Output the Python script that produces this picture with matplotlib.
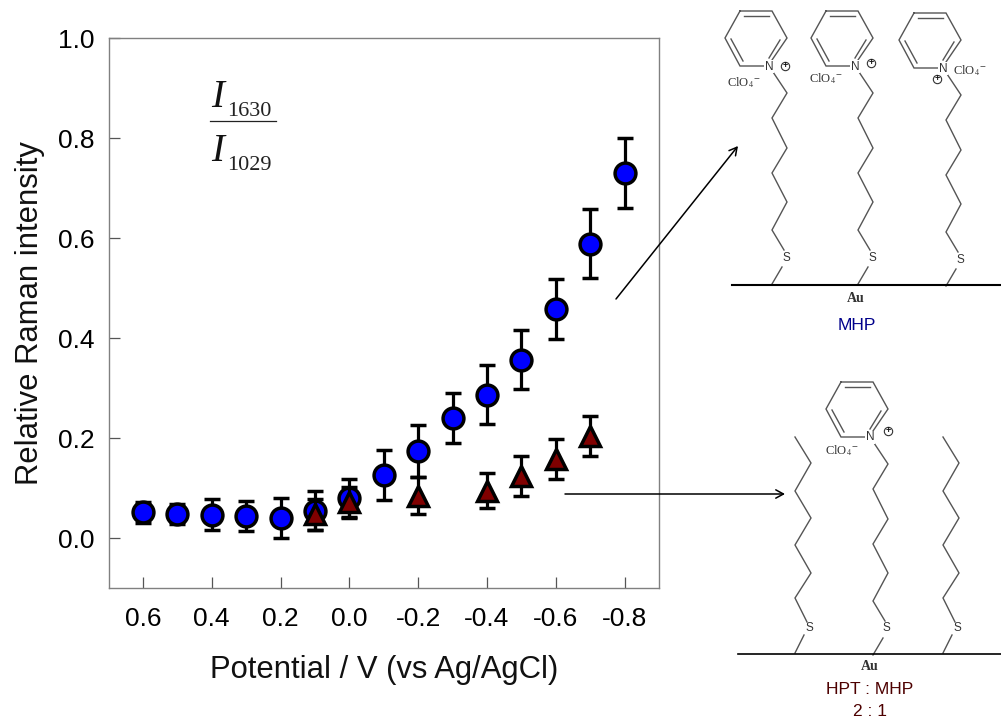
import numpy as np
import matplotlib
matplotlib.use('Agg')
import matplotlib.pyplot as plt

plt.rcParams['font.family'] = ['Liberation Sans', 'DejaVu Sans']
plt.rcParams['mathtext.fontset'] = 'stix'

# MHP series
mhp_x = [0.6, 0.5, 0.4, 0.3, 0.2, 0.1, 0.0, -0.1, -0.2, -0.3, -0.4, -0.5, -0.6, -0.7, -0.8]
mhp_y = [0.052, 0.048, 0.047, 0.044, 0.041, 0.055, 0.080, 0.126, 0.174, 0.240, 0.287, 0.357, 0.458, 0.589, 0.731]
mhp_err = [0.021, 0.020, 0.031, 0.030, 0.040, 0.039, 0.038, 0.050, 0.052, 0.050, 0.059, 0.059, 0.060, 0.069, 0.070]

# HPT : MHP series
mix_x = [0.1, 0.0, -0.2, -0.4, -0.5, -0.6, -0.7]
mix_y = [0.048, 0.072, 0.085, 0.095, 0.124, 0.158, 0.204]
mix_err = [0.031, 0.031, 0.037, 0.035, 0.040, 0.040, 0.040]

x_ticks = [0.6, 0.4, 0.2, 0.0, -0.2, -0.4, -0.6, -0.8]
y_ticks = [0.0, 0.2, 0.4, 0.6, 0.8, 1.0]

# sketch outlines in image pixels, relative to each nitrogen or chain top
ring = [(-29, -55), (3, -55), (18, -28), (3, -6), (0, 0), (-29, 0), (-44, -28), (-29, -55)]
ring_inner = [[(-25, -50), (0, -50)], [(11, -26), (0, -8)], [(-26, -5), (-38, -27)]]
chain = [(4, 6), (18, 27), (3, 52), (18, 82), (3, 107), (18, 136), (3, 164), (15, 184)]
tail = [(13, 201), (3, 218)]
bare_chain = [(0, 0), (16, 26), (0, 54), (16, 81), (0, 108), (16, 136), (0, 161), (12, 185)]
bare_tail = [(9, 198), (0, 216)]

fig = plt.figure(figsize=(10.01, 7.19), dpi=100)
ax = fig.add_axes([108.5/1001, 1-588/719, (659-108.5)/1001, 550/719])

ax.errorbar(mhp_x, mhp_y, yerr=mhp_err, fmt='o', ms=15, mfc='#0000ff', mec='k', mew=2.5,
            ecolor='k', elinewidth=2.3, capsize=5.8, capthick=2.3, zorder=3)
ax.errorbar(mix_x, mix_y, yerr=mix_err, fmt='^', ms=15, mfc='#800000', mec='k', mew=2.5,
            ecolor='k', elinewidth=2.3, capsize=5.8, capthick=2.3, zorder=4)

ax.set_xlim(0.7, -0.9)
ax.set_ylim(-0.1, 1.0)
ax.set_xticks(x_ticks)
ax.set_xticklabels(['%.1f' % v for v in x_ticks])
ax.set_yticks(y_ticks)
ax.tick_params(direction='in', length=8, width=0.9, color='#555555', labelsize=19, pad=10)
ax.tick_params(axis='x', pad=14)
for s in ax.spines.values():
    s.set_color('#808080')
    s.set_linewidth(1.0)
ax.set_xlabel('Potential / V (vs Ag/AgCl)', fontsize=22.3, labelpad=17, color='#111111')
ax.set_ylabel('Relative Raman intensity', fontsize=22.3, labelpad=9, color='#111111')

# overlay in pixel coordinates for the fraction, arrows and sketches
ov = fig.add_axes([0, 0, 1, 1], facecolor='none')
ov.set_xlim(0, 1001)
ov.set_ylim(719, 0)
ov.axis('off')

for base, sub in [(107, '1630'), (161, '1029')]:
    ov.text(211, base, 'I', fontsize=28, family='Liberation Serif', style='italic', color='#111111', va='baseline')
    ov.text(227, base+9, sub, fontsize=16, family='Liberation Serif', color='#222222', va='baseline')
ov.plot([210, 276], [121, 121], color='#222222', lw=0.9)


def poly(pts, x0, y0, color='#555555', lw=1.0):
    ov.plot([x0+p[0] for p in pts], [y0+p[1] for p in pts], color=color, lw=lw, solid_joinstyle='miter')


def label(x, y, s, size=8.5, color='#333333', **kw):
    ov.text(x, y, s, fontsize=size, color=color, ha='center', va='center', **kw)


def pyridinium(nx, ny):
    poly(ring, nx, ny)
    for seg in ring_inner:
        poly(seg, nx, ny)
    label(nx, ny+0.5, 'N', bbox=dict(fc='white', ec='none', pad=0.6))


def perchlorate(x, y):
    ov.text(x, y, r'ClO$_4$$^{-}$', fontsize=9, family='Liberation Serif', color='#333333',
            ha='center', va='center')


def plus(x, y):
    ov.plot([x], [y], 'o', ms=6, mfc='white', mec='#333333', mew=0.8)
    label(x, y-0.5, '+', size=6.5, color='#111111', weight='bold')


# upper panel, MHP
for nx, ny, cx, cy, qx, qy in [(769, 66, 744, 83, 785, 66),
                               (855, 66, 826, 79, 871, 63),
                               (943, 68, 970, 71, 937, 79)]:
    pyridinium(nx, ny)
    poly(chain, nx, ny)
    poly(tail, nx, ny)
    label(nx+17, ny+192, 'S')
    perchlorate(cx, cy)
    plus(qx, qy)
ov.plot([732, 1001], [285, 285], color='k', lw=1.5)
label(856, 299, 'Au', size=10, family='Liberation Serif', weight='bold')
label(857, 325, 'MHP', size=12.5, color='#00008b')

# lower panel, HPT : MHP
pyridinium(870, 437)
poly(chain, 870, 437)
poly(tail, 870, 437)
label(886, 628, 'S')
perchlorate(842, 451)
plus(888, 431)
for x0 in (795, 943):
    poly(bare_chain, x0, 437)
    poly(bare_tail, x0, 437)
    label(x0+14, 628, 'S')
ov.plot([738, 1001], [654, 654], color='k', lw=1.2)
label(870, 667, 'Au', size=10, family='Liberation Serif', weight='bold')
label(870, 690, 'HPT : MHP', size=12.5, color='#4d0000')
label(870, 711, '2 : 1', size=12.5, color='#4d0000')

# arrows
for start, end in [((616, 299), (738, 146)), ((565, 494), (785, 494))]:
    ov.annotate('', xy=end, xytext=start,
                arrowprops=dict(arrowstyle='->,head_length=0.55,head_width=0.3', color='k', lw=1.1,
                                shrinkA=0, shrinkB=0))

fig.savefig('out.png', dpi=100)
